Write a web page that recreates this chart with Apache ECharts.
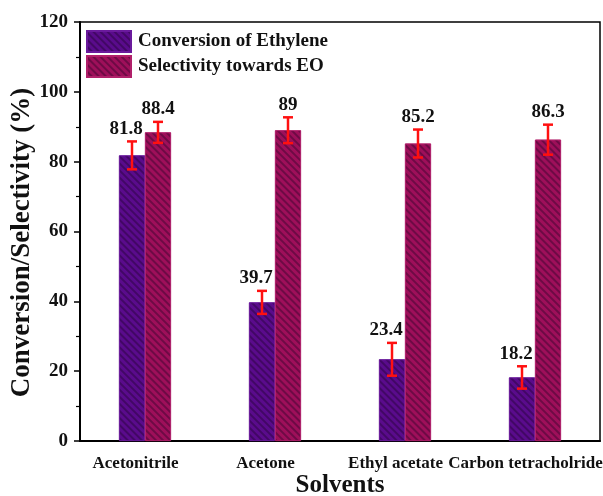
<!DOCTYPE html>
<html>
<head>
<meta charset="utf-8">
<script src="https://cdn.jsdelivr.net/npm/echarts@6/dist/echarts.min.js"></script>
<style>html,body{margin:0;padding:0;background:#fff}#c{width:603px;height:496px}</style>
</head>
<body>
<div id="c"></div>
<script>
const categories = ['Acetonitrile', 'Acetone', 'Ethyl acetate', 'Carbon tetracholride'];
const conversion = [81.8, 39.7, 23.4, 18.2];
const selectivity = [88.4, 89, 85.2, 86.3];
const conversionErr = [4.0, 3.3, 4.7, 3.2];
const selectivityErr = [3.0, 3.7, 4.0, 4.3];
const yTicks = [0, 20, 40, 60, 80, 100, 120];

const FONT = '"Liberation Serif", "Times New Roman", serif';
const PURPLE = '#5a0b8c';
const MAGENTA = '#9e0f5a';

const chart = echarts.init(document.getElementById('c'));

function decal() {
  return {
    symbol: 'rect', symbolSize: 1,
    dashArrayX: [1, 0], dashArrayY: [2, 3],
    rotation: Math.PI / 4,
    color: 'rgba(20,0,30,0.35)'
  };
}

function errData(vals, errs) {
  return vals.map((v, i) => [i, v, errs[i]]);
}

function errRenderer(side, labelDx) {
  return function (params, api) {
    const idx = api.value(0), v = api.value(1), e = api.value(2);
    const bandW = api.size([1, 0])[0];
    const off = side * bandW * 0.1;
    const top = api.coord([idx, v + e]);
    const bot = api.coord([idx, v - e]);
    const x = top[0] + off;
    const cap = 5;
    const ls = { stroke: '#ff1010', lineWidth: 2.5 };
    return {
      type: 'group',
      children: [
        { type: 'line', shape: { x1: x, y1: top[1], x2: x, y2: bot[1] }, style: ls },
        { type: 'line', shape: { x1: x - cap, y1: top[1], x2: x + cap, y2: top[1] }, style: ls },
        { type: 'line', shape: { x1: x - cap, y1: bot[1], x2: x + cap, y2: bot[1] }, style: ls },
        { type: 'text', style: { text: String(v), x: x + labelDx, y: top[1] - 3, align: 'center', verticalAlign: 'bottom', font: 'bold 19px ' + FONT, fill: '#111' } }
      ]
    };
  };
}

chart.setOption({
  animation: false,
  backgroundColor: '#fff',
  grid: { left: 80, right: 3, top: 22, bottom: 55, outerBoundsMode: 'none', containLabel: false, show: true, borderColor: '#000', borderWidth: 1.5 },
  legend: {
    data: ['Conversion of Ethylene', 'Selectivity towards EO'],
    orient: 'vertical', left: 86, top: 30, icon: 'rect', padding: 0,
    itemWidth: 44, itemHeight: 21, itemGap: 2,
    textStyle: { fontFamily: FONT, fontWeight: 'bold', fontSize: 19, lineHeight: 21, color: '#111', padding: [0, 0, 0, 2] }
  },
  xAxis: [{
    type: 'category', data: categories,
    name: 'Solvents', nameLocation: 'middle', nameGap: 32, nameMoveOverlap: false,
    nameTextStyle: { fontFamily: FONT, fontWeight: 'bold', fontSize: 25, color: '#111' },
    axisLine: { lineStyle: { color: '#000', width: 2 } },
    axisTick: { alignWithLabel: true, length: 7, lineStyle: { color: '#000', width: 1.5 } },
    axisLabel: {
      interval: 0, margin: 14,
      formatter: v => '{a|' + v + '}',
      rich: { a: { fontFamily: FONT, fontWeight: 'bold', fontSize: 17, color: '#111', padding: [0, 19, 0, 0] } }
    }
  }, {
    type: 'category', data: categories, position: 'bottom',
    axisLine: { show: false },
    axisTick: { length: 5, lineStyle: { color: '#000', width: 1.5 } },
    axisLabel: { show: false }
  }],
  yAxis: {
    type: 'value', min: 0, max: 120, interval: 20,
    name: 'Conversion/Selectivity (%)', nameLocation: 'middle', nameGap: 44, nameMoveOverlap: false,
    nameTextStyle: { fontFamily: FONT, fontWeight: 'bold', fontSize: 27, color: '#111', padding: [0, 22, 0, 0] },
    axisLine: { show: true, lineStyle: { color: '#000', width: 2 } },
    axisTick: { show: true, length: 6, lineStyle: { color: '#000', width: 1.5 } },
    minorTick: { show: true, splitNumber: 2, length: 4, lineStyle: { color: '#000', width: 1.2 } },
    splitLine: { show: false },
    axisLabel: {
      margin: 12, fontFamily: FONT, fontWeight: 'bold', fontSize: 19, color: '#111',
      formatter: v => yTicks.includes(v) ? String(v) : ''
    }
  },
  series: [{
    name: 'Conversion of Ethylene', type: 'bar', data: conversion,
    barWidth: '20%', barGap: '0%',
    itemStyle: { color: PURPLE, borderColor: '#6a1a9c', borderWidth: 0.8, decal: decal() }
  }, {
    name: 'Selectivity towards EO', type: 'bar', data: selectivity,
    barWidth: '20%', barGap: '0%',
    itemStyle: { color: MAGENTA, borderColor: '#b0206a', borderWidth: 0.8, decal: decal() }
  }, {
    type: 'custom', name: 'convErr', data: errData(conversion, conversionErr),
    encode: { x: 0, y: 1 }, z: 10, renderItem: errRenderer(-1, -6)
  }, {
    type: 'custom', name: 'selErr', data: errData(selectivity, selectivityErr),
    encode: { x: 0, y: 1 }, z: 10, renderItem: errRenderer(1, 0)
  }]
});
</script>
</body>
</html>
